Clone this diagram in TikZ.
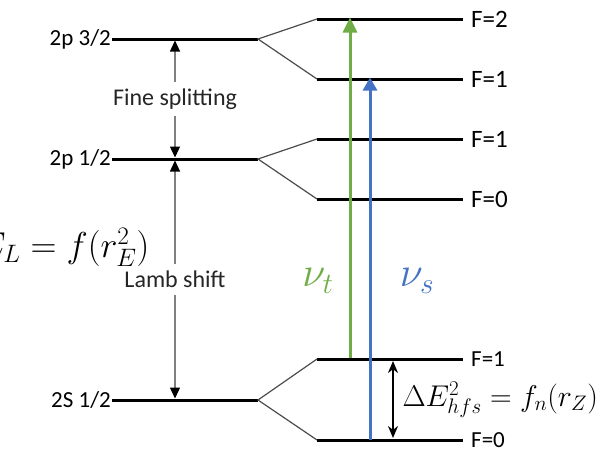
\documentclass[tikz,border=0pt]{standalone}
\usepackage{fix-cm}
\usepackage{fontspec}
\setmainfont{Carlito}
\usepackage{tikz}
\usetikzlibrary{arrows.meta, positioning}
\definecolor{nuT}{RGB}{112, 173, 71}
\definecolor{nuS}{RGB}{68, 114, 196}

\begin{document}
\begin{tikzpicture}[x=1pt, y=-1pt,
    level/.style={line width=3pt},
    fan/.style={line width=1.2pt, black!70},
    split/.style={line width=1.2pt, gray,
      {Triangle[color=black, length=11pt, width=10pt]}-{Triangle[color=black, length=11pt, width=10pt]}},
    lvl/.style={font=\fontsize{23}{27}\selectfont, inner sep=1pt},
    flbl/.style={font=\fontsize{25}{29}\selectfont, inner sep=1pt},
    txt/.style={font=\fontsize{24}{28}\selectfont, text=black!85, fill=white, inner sep=7pt},
    eq/.style={font=\fontsize{30}{34}\selectfont}]
  \clip (0,0) rectangle (606,448);

  % fine structure levels
  \coordinate (p3-l) at (112,39);  \coordinate (p3-r) at (258,39);
  \coordinate (p1-l) at (112,159); \coordinate (p1-r) at (258,159);
  \coordinate (s1-l) at (112,400); \coordinate (s1-r) at (258,400);
  % hyperfine levels
  \coordinate (a2-l) at (317,19);  \coordinate (a2-r) at (463,19);
  \coordinate (a1-l) at (317,79);  \coordinate (a1-r) at (463,79);
  \coordinate (b1-l) at (317,139); \coordinate (b1-r) at (463,139);
  \coordinate (b0-l) at (317,199); \coordinate (b0-r) at (463,199);
  \coordinate (c1-l) at (317,359); \coordinate (c1-r) at (463,359);
  \coordinate (c0-l) at (317,440); \coordinate (c0-r) at (463,440);

  \foreach \n in {p3, p1, s1, a2, a1, b1, b0, c1, c0}
    \draw[level] (\n-l) -- (\n-r);

  \draw[fan] (a2-l) -- (p3-r) -- (a1-l);
  \draw[fan] (b1-l) -- (p1-r) -- (b0-l);
  \draw[fan] (c1-l) -- (s1-r) -- (c0-l);

  % level labels
  \node[lvl, left=0pt of p3-l] (p3lbl) {2p 3/2};
  \node[lvl, left=0pt of p1-l] (p1lbl) {2p 1/2};
  \node[lvl, left=0pt of s1-l] (s1lbl) {2S 1/2};
  \node[flbl, right=7pt of a2-r] (a2lbl) {F=2};
  \node[flbl, right=7pt of a1-r] (a1lbl) {F=1};
  \node[flbl, right=7pt of b1-r] (b1lbl) {F=1};
  \node[flbl, right=7pt of b0-r] (b0lbl) {F=0};
  \node[flbl, right=7pt of c1-r, font=\fontsize{23}{27}\selectfont] (c1lbl) {F=1};
  \node[flbl, right=7pt of c0-r, font=\fontsize{23}{27}\selectfont] (c0lbl) {F=0};

  % splittings
  \coordinate (fs-t) at (175,40.5);  \coordinate (fs-b) at (175,157.5);
  \coordinate (ls-t) at (175,160.5); \coordinate (ls-b) at (175,398.5);
  \draw[split] (fs-t) -- node[txt] (fine) {Fine splitting} (fs-b);
  \draw[split] (ls-t) -- node[txt] (lamb) {Lamb shift} (ls-b);
  \node[eq, anchor=east, font=\fontsize{36}{40}\selectfont] (lambeq) at (153,247) {$E_L = f(r_E^2)$};

  % transitions
  \coordinate (gt-b) at (350,357.5); \coordinate (gt-t) at (350,17.5);
  \coordinate (bs-b) at (370,440);   \coordinate (bs-t) at (370,77.5);
  \draw[nuT, line width=3pt, -{Triangle[length=15pt, width=14pt]}] (gt-b) -- (gt-t);
  \draw[nuS, line width=3pt, -{Triangle[length=13pt, width=14pt]}] (bs-b) -- (bs-t);
  \node[eq, nuT, font=\fontsize{42}{46}\selectfont] (nut) at (318,281) {$\nu_t$};
  \node[eq, nuS, font=\fontsize{42}{46}\selectfont] (nus) at (417,281) {$\nu_s$};

  % hyperfine splitting
  \coordinate (de-t) at (393,361); \coordinate (de-b) at (393,438);
  \draw[line width=2pt, {Stealth[length=12pt, width=10pt]}-{Stealth[length=12pt, width=10pt]}] (de-t) -- (de-b);
  \node[eq, anchor=west] (hfs) at (399,400) {$\Delta E^2_{hfs} = f_n(r_Z)$};
\end{tikzpicture}
\end{document}
